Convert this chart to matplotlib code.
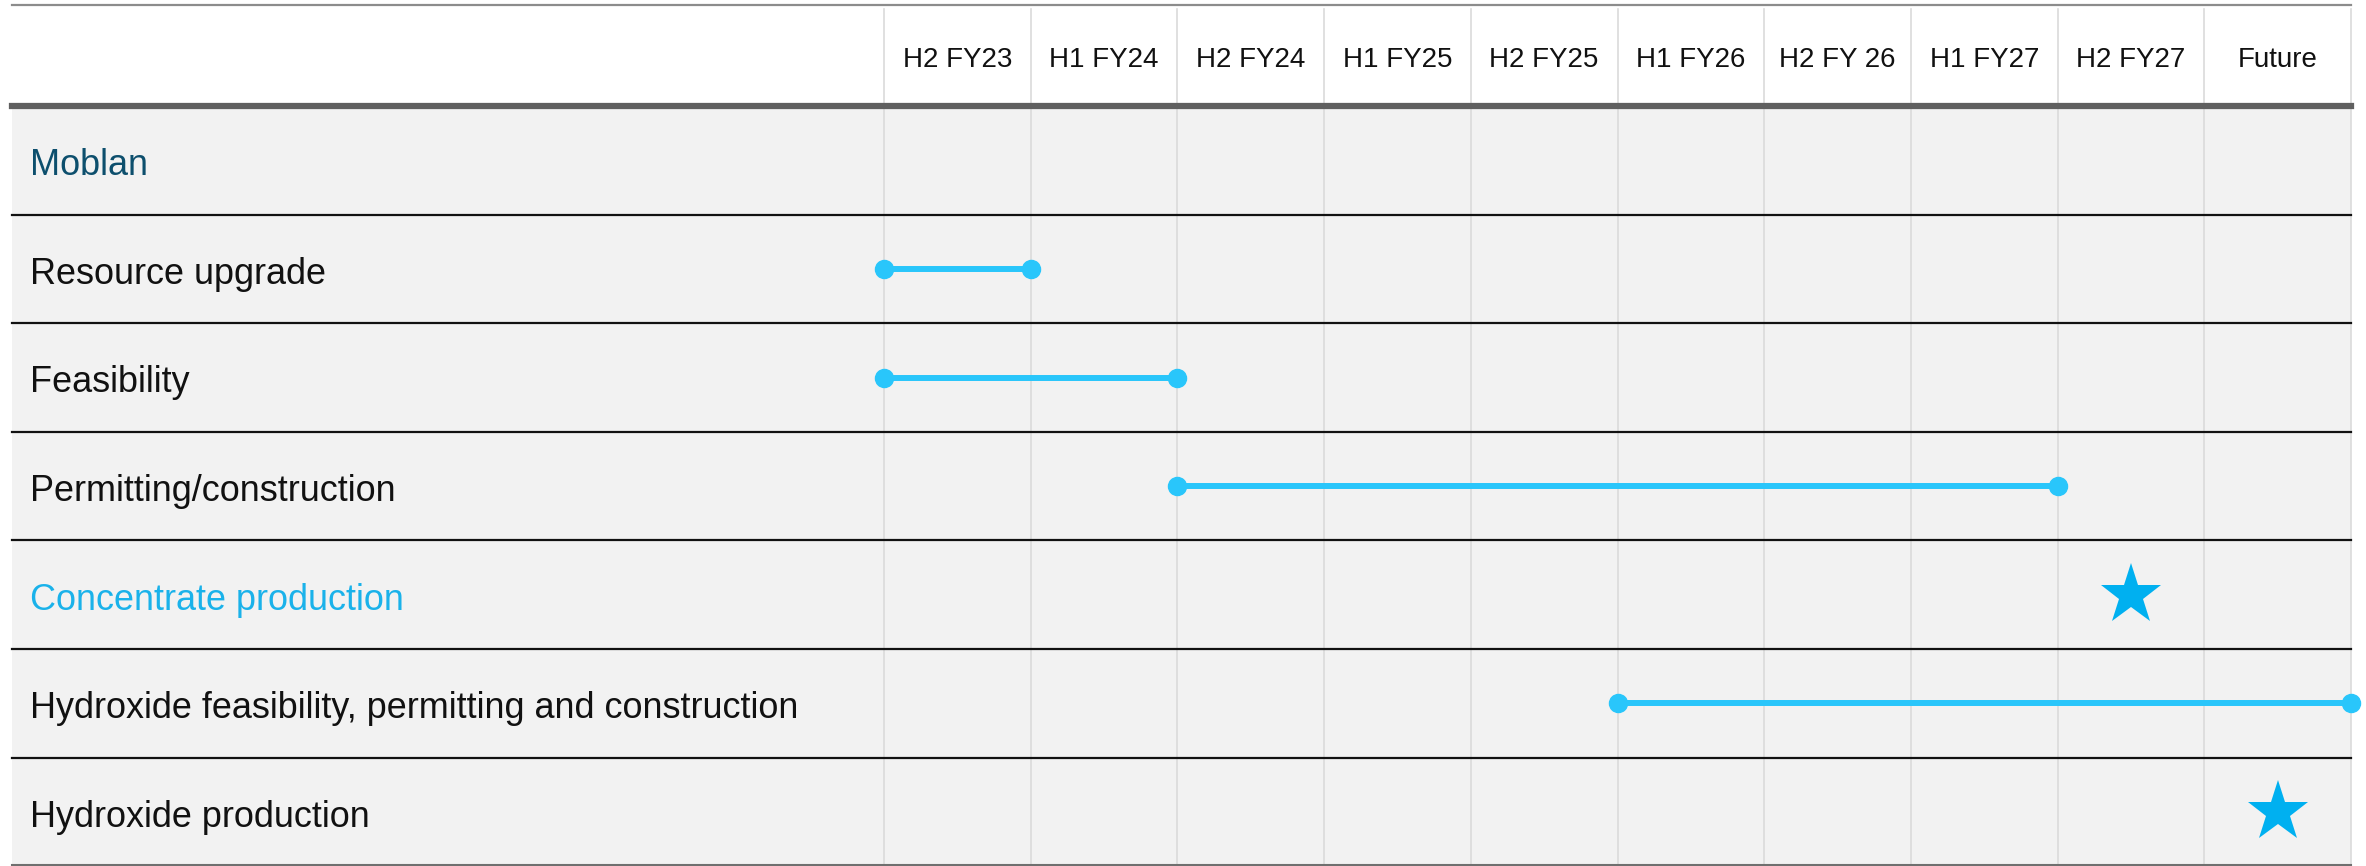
import matplotlib.pyplot as plt

plt.rcParams['font.family'] = ['Liberation Sans', 'DejaVu Sans']

periods = ['H2 FY23', 'H1 FY24', 'H2 FY24', 'H1 FY25', 'H2 FY25',
           'H1 FY26', 'H2 FY 26', 'H1 FY27', 'H2 FY27', 'Future']
tasks = ['Moblan', 'Resource upgrade', 'Feasibility', 'Permitting/construction',
         'Concentrate production',
         'Hydroxide feasibility, permitting and construction',
         'Hydroxide production']
task_colors = ['#0d4f6d', '#111111', '#111111', '#111111', '#1ab2ea', '#111111', '#111111']

# spans: task -> (first period boundary, last period boundary)
span_tasks = ['Resource upgrade', 'Feasibility', 'Permitting/construction',
              'Hydroxide feasibility, permitting and construction']
span_start = [0, 0, 2, 5]
span_end = [1, 2, 8, 10]

# milestones: task -> period
milestone_tasks = ['Concentrate production', 'Hydroxide production']
milestone_periods = ['H2 FY27', 'Future']

line_col = '#29c6fb'
star_col = '#00b0f0'

fig = plt.figure(figsize=(23.66, 8.66), dpi=100)
ax = fig.add_axes([0, 0, 1, 1])
ax.set_xlim(-6.026, 10.102)
ax.set_ylim(6.498, -1.476)
ax.axis('off')

tab_l, tab_r = -5.944, 10.0

# grey body
ax.fill_between([tab_l, tab_r], -0.5, 6.5, color='#f2f2f2', lw=0, zorder=0)

# column lines
for i in range(len(periods) + 1):
    ax.plot([i, i], [-1.393, 6.5], color='#dadada', lw=1.2, zorder=1)

# header
for i, p in enumerate(periods):
    ax.text(i + 0.5, -0.923, p, ha='center', va='center', fontsize=20, color='#111111')

ax.plot([tab_l, tab_r], [-1.43, -1.43], color='#8c8c8c', lw=1.6, zorder=2)
ax.plot([tab_l, tab_r], [-0.5, -0.5], color='#5f5f5f', lw=4.5, zorder=2)

# row lines and labels
for r, (t, c) in enumerate(zip(tasks, task_colors)):
    ax.text(-5.821, r + 0.05, t, ha='left', va='center', fontsize=25.9, color=c, zorder=3)
    if r > 0:
        ax.plot([tab_l, tab_r], [r - 0.5, r - 0.5], color='#111111', lw=1.6, zorder=2)
ax.plot([tab_l, tab_r], [6.49, 6.49], color='#6f6f6f', lw=1.5, zorder=2)

# spans
for t, s, e in zip(span_tasks, span_start, span_end):
    r = tasks.index(t)
    ax.plot([s, e], [r, r], color=line_col, lw=4.3, marker='o', ms=13,
            solid_capstyle='butt', zorder=4, clip_on=False)

# milestones
for t, p in zip(milestone_tasks, milestone_periods):
    r = tasks.index(t)
    ax.plot(periods.index(p) + 0.5, r, marker='*', ms=46, color=star_col,
            markeredgewidth=0, zorder=4)

fig.savefig('out.png', dpi=100)
